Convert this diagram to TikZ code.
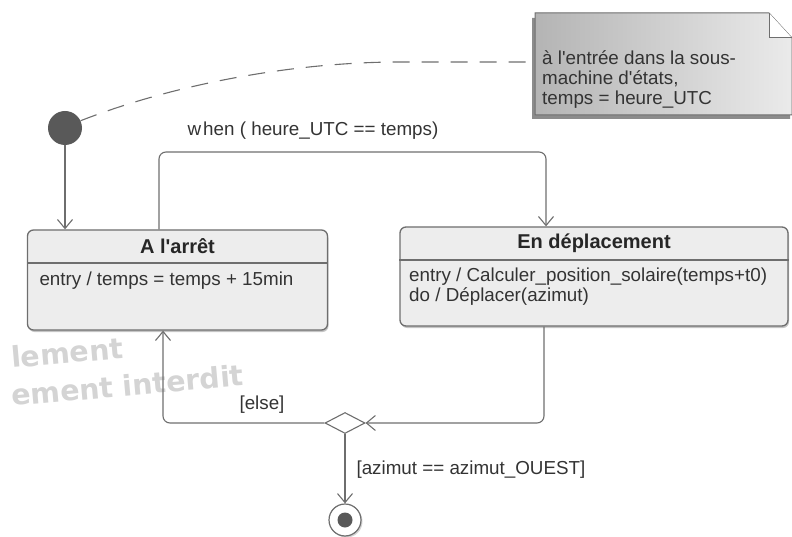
\documentclass[tikz,border=0pt]{standalone}
\usepackage{fontspec}
\setmainfont{Liberation Sans}[Ligatures=TeXOff]
\newfontfamily\marquefont{DejaVu Sans}
\usetikzlibrary{shapes.geometric,shadows,arrows.meta,positioning}

\definecolor{trait}{HTML}{6E6E6E}
\definecolor{fondetat}{HTML}{EDEDED}
\definecolor{fondnote}{HTML}{B4B4B4}

\tikzset{
  etat/.style={draw=trait, fill=fondetat, line width=1.3pt, rounded corners=6pt,
    drop shadow={shadow xshift=1pt, shadow yshift=-2pt, fill=black!45}},
  titre/.style={font=\fontsize{20}{22}\selectfont\bfseries, text=black!85},
  txt/.style={font=\fontsize{18.8}{20}\selectfont, text=black!80, align=left},
  trans/.style={draw=trait, line width=1.1pt, rounded corners=7pt,
    -{Straight Barb[length=9pt,width=15pt,line width=1.1pt]}},
  marque/.style={font=\fontsize{28.5}{29}\marquefont\bfseries, text=black!17, rotate=5,
    anchor=base west, inner sep=0pt}
}

\begin{document}
\begin{tikzpicture}[x=1pt,y=-1pt]
\useasboundingbox (0,0) rectangle (792,537);

% filigrane
\node[marque] (filigrane1) at (12,368) {lement};
\node[marque] (filigrane2) at (12,406) {ement interdit};

% note attachee
\fill[black!45] (532,18) -- (767,18) -- (790,43) -- (790,119) -- (532,119) -- cycle;
\shade[left color=fondnote, right color=black!8, draw=trait, line width=1pt]
  (535,13) -- (769,13) -- (792,38) -- (792,115) -- (535,115) -- cycle;
\draw[trait, line width=1pt, fill=white] (769,13) -- (769,38) -- (792,38);
\node[txt, anchor=north west, inner sep=0pt] (note) at (542,50)
  {à l'entrée dans la sous-\\machine d'états,\\temps = heure\_UTC};
\coordinate (notein) at (535,62);

% etats
\node[etat, minimum width=300pt, minimum height=100pt] (arret) at (177.5,280) {};
\draw[trait, line width=1.1pt] (arret.west |- 0,263) -- (arret.east |- 0,263);
\node[titre] (arret-titre) at (arret.north |- 0,246) {A l'arrêt};
\node[txt, anchor=west] (arret-act) at (36,281) {entry / temps = temps + 15min};

\node[etat, minimum width=388pt, minimum height=99pt] (deplac) at (594,276.5) {};
\draw[trait, line width=1.1pt] (deplac.west |- 0,260) -- (deplac.east |- 0,260);
\node[titre] (deplac-titre) at (deplac.north |- 0,243) {En déplacement};
\node[txt, anchor=north west, inner sep=0pt] (deplac-act) at (409,268)
  {entry / Calculer\_position\_solaire(temps+t0)\\do / Déplacer(azimut)};

% pseudo-etats
\node[circle, fill=black!65, minimum size=34pt, inner sep=0pt] (init) at (65,128) {};
\node[diamond, draw=trait, fill=white, line width=1.1pt, minimum width=40pt,
  minimum height=21pt, inner sep=0pt, aspect=2] (choix) at (345,423) {};
\node[circle, draw=trait, fill=white, line width=1.2pt, minimum size=32pt, inner sep=0pt,
  drop shadow={shadow xshift=1.5pt, shadow yshift=-1.5pt, fill=black!35}] (fin) at (345,520) {};
\node[circle, fill=black!65, minimum size=15pt, inner sep=0pt] at (fin) {};

% transitions
\draw[trans] (init) -- (init |- arret.north);
\draw[trans] (arret.north -| 159,0) |- (546,152) -- (546,0 |- deplac.north);
\node[txt] (garde-when) at (313,131) {w\kern2pt hen ( heure\_UTC == temps)};
\draw[trans] (deplac.south -| 544,0) |- (choix.east);
\draw[trans] (choix.west) -| (163,0 |- arret.south);
\node[txt] (garde-else) at (262,405) {[else]};
\draw[trans] (choix.south) -- (fin.north);
\node[txt, anchor=west] (garde-ouest) at (353,470) {[azimut == azimut\_OUEST]};

% lien vers la note
\draw[trait, line width=1.1pt, dash pattern=on 17pt off 12pt]
  (init.25) .. controls (180,82) and (300,62) .. (400,62) -- (notein);
\end{tikzpicture}
\end{document}
